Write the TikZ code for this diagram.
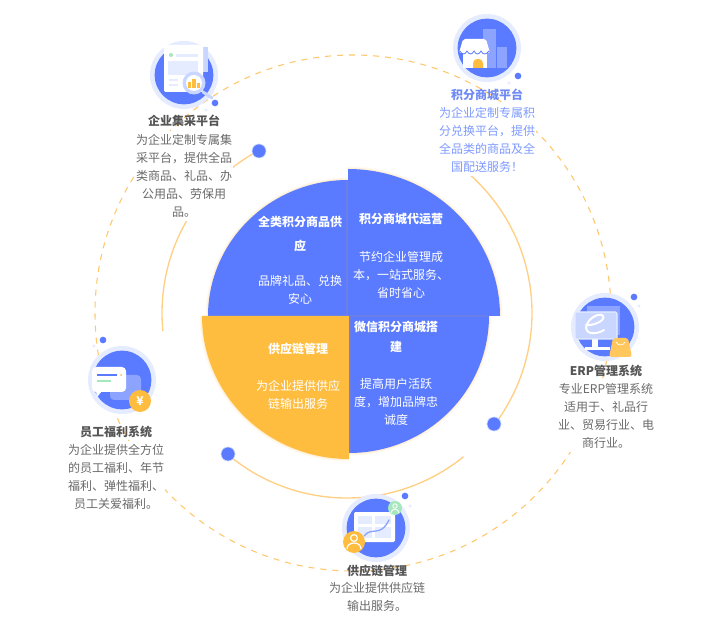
\documentclass[tikz,border=0pt]{standalone}
\usepackage{fontspec}
\setmainfont{Noto Sans CJK SC}
\usetikzlibrary{calc}
\definecolor{mainblue}{HTML}{5A7BFF}
\definecolor{seamblue}{HTML}{6C7FE8}
\definecolor{mainorange}{HTML}{FFBD3F}
\definecolor{arcorange}{HTML}{FFD083}
\definecolor{dashorange}{HTML}{FFC76B}
\definecolor{halo}{HTML}{E6ECFF}
\definecolor{paleblue}{HTML}{C9D6FF}
\definecolor{midblue}{HTML}{8CA4FF}
\definecolor{softblue}{HTML}{E6ECFF}
\definecolor{mint}{HTML}{A5E8BC}
\definecolor{titlegrey}{HTML}{555555}
\definecolor{descgrey}{HTML}{6A6A6A}
\definecolor{hltitle}{HTML}{6F8AF5}
\definecolor{hldesc}{HTML}{7E9AFF}
\definecolor{glowa}{HTML}{FFF9EE}
\definecolor{glowb}{HTML}{FFF0D8}
\newcommand{\sz}{\fontsize{9}{13.5}\selectfont}
\newcommand{\sectorshape}[7]{% fill colour, cx, cy, rx, ry, from, to
  \draw[glowa,line width=3.6pt] plot[domain=#6:#7,samples=70] ({#2+#4*cos(\x)},{#3+#5*sin(\x)});
  \draw[glowb,line width=1.8pt] plot[domain=#6:#7,samples=70] ({#2+#4*cos(\x)},{#3+#5*sin(\x)});
  \fill[#1] (#2,#3) -- plot[domain=#6:#7,samples=70] ({#2+#4*cos(\x)},{#3+#5*sin(\x)}) -- cycle;
}
\tikzset{
  x=0.75pt,y=-0.75pt,
  ring/.style={draw=dashorange,line width=0.8pt,dash pattern=on 4.5pt off 4.5pt},
  solidarc/.style={draw=arcorange,line width=1pt},
  bigdot/.style={circle,fill=mainblue,draw=paleblue,line width=0.5pt,minimum size=10.5pt,inner sep=0pt},
  smalldot/.style={circle,fill=mainblue,minimum size=5pt,inner sep=0pt},
  tinydot/.style={circle,fill=halo,minimum size=2.6pt,inner sep=0pt},
  halodisc/.style={circle,fill=halo,minimum size=51pt,inner sep=0pt},
  bluedisc/.style={circle,fill=mainblue,minimum size=44pt,inner sep=0pt},
  secttitle/.style={font=\sz\bfseries,text=white,align=center,inner sep=0pt},
  sectdesc/.style={font=\sz,text=white,align=center,inner sep=0pt},
  itemtitle/.style={font=\sz\bfseries,text=titlegrey,align=center,inner sep=0pt},
  itemdesc/.style={font=\sz,text=descgrey,align=center,inner sep=0pt,fill=white,text width=73.5pt},
  hltitlestyle/.style={itemtitle,text=hltitle},
  hldescstyle/.style={itemdesc,text=hldesc},
}
\begin{document}
\begin{tikzpicture}
\useasboundingbox[fill=white] (0,0) rectangle (710,630);
% dashed outer ring
\draw[ring] (353,313) circle[radius=258];
% solid inner arcs
\draw[solidarc] plot[domain=174.4:241.5,samples=60] ({347+185*cos(\x)},{313+185*sin(\x)});
\draw[solidarc] plot[domain=-56:37,samples=80] ({347+185*cos(\x)},{313+185*sin(\x)});
\draw[solidarc] plot[domain=51:130,samples=80] ({347+185*cos(\x)},{313+185*sin(\x)});
% pie
\sectorshape{mainblue}{348}{316}{140}{136}{180}{270}
\sectorshape{mainblue}{349}{316}{140}{137}{0}{90}
\sectorshape{mainblue}{348}{316}{152}{147}{270}{360}
\sectorshape{mainorange}{349}{316}{147}{143}{90}{180}
\draw[seamblue,line width=0.8pt] (347,181) -- (347,315);
\draw[seamblue,line width=0.8pt] (350,316) -- (488,316);
\draw[seamblue,line width=0.8pt] (350,317) -- (350,452);
% arc end dots
\node[bigdot] (dotA) at (259,151) {};
\node[bigdot] (dotB) at (494,424) {};
\node[bigdot] (dotC) at (228,454) {};
% sector texts
\node[secttitle] (t1) at (300,234) {全类积分商品供\\[4.5pt]应};
\node[sectdesc]  (d1) at (300,290) {品牌礼品、兑换\\安心};
\node[secttitle] (t2) at (401,219) {积分商城代运营};
\node[sectdesc]  (d2) at (401,275) {节约企业管理成\\本，一站式服务、\\省时省心};
\node[secttitle] (t3) at (396,337) {微信积分商城搭\\[1.5pt]建};
\node[sectdesc]  (d3) at (396,402) {提高用户活跃\\度，增加品牌忠\\诚度};
\node[secttitle] (t4) at (298,349) {供应链管理};
\node[sectdesc]  (d4) at (298,395) {为企业提供供应\\链输出服务};

% ---------- icon 1: procurement
\node[halodisc] (h1) at (184,75) {};
\node[bluedisc] (c1) at (184,75) {};
\fill[paleblue] (203,47) rectangle (208,72);
\draw[paleblue,line width=2.2pt,line cap=round] (203,92) -- (212,98);
\fill[white,rounded corners=1pt] (164,45) rectangle (203,92);
\fill[mint] (171,55) circle[radius=2];
\fill[softblue] (176,54) rectangle (198,57);
\fill[softblue] (168,61) rectangle (198,75);
\fill[softblue] (169,79) rectangle (178,81);
\fill[softblue] (169,84) rectangle (178,86);
\fill[paleblue] (194,83) circle[radius=11.5];
\fill[white] (194,83) circle[radius=8];
\fill[mainorange] (188,82) rectangle (191,88);
\fill[mainorange] (192,79) rectangle (196,88);
\fill[mainorange] (197,83) rectangle (200,88);
\node[smalldot] (s1) at (215,103) {};
\node[tinydot] (p1) at (206,110) {};

% ---------- icon 2: mall
\node[halodisc] (h2) at (487,48) {};
\node[bluedisc] (c2) at (487,48) {};
\fill[midblue] (483,29) rectangle (496,68);
\fill[midblue] (497,47) rectangle (507,68);
\fill[white] (463,52) rectangle (487,68);
\fill[white,rounded corners=1.5pt] (463,39) -- (486,39) -- (490,53) -- (459,53) -- cycle;
\draw[mainblue,line width=0.6pt] (460,51) .. controls (462,55) and (465,55) .. (467,51) .. controls (469,55) and (472,55) .. (474,51) .. controls (476,55) and (479,55) .. (481,51) .. controls (483,55) and (486,55) .. (489,51);
\fill[mainorange] (473,68) -- (473,63) .. controls (473,57.5) and (483,57.5) .. (483,63) -- (483,68) -- cycle;
\node[smalldot] (s2) at (518,76) {};
\node[tinydot] (p2) at (509,83) {};

% ---------- icon 3: ERP
\node[halodisc] (h3) at (605,327) {};
\node[bluedisc] (c3) at (605,327) {};
\fill[midblue] (587,306) rectangle (620,335);
\fill[white] (592,339) rectangle (598,347);
\fill[white] (585,347) rectangle (610,350);
\fill[paleblue,rounded corners=1pt,draw=softblue,line width=0.8pt] (575,312) rectangle (617,339);
\draw[white,line width=1.5pt,line cap=round] (586,325) .. controls (594,326) and (606,320) .. (603,316) .. controls (600,312) and (587,318) .. (586,328) .. controls (586,334) and (596,335) .. (604,330);
\fill[mainorange!85!white,rounded corners=2pt] (613,338) -- (628,338) -- (632,357) -- (609,357) -- cycle;
\draw[white,line width=0.5pt] (616,342) .. controls (618,346) and (623,346) .. (625,342);
\node[smalldot] (s3) at (634,297) {};
\node[tinydot] (p3) at (639,306) {};

% ---------- icon 4: welfare
\node[halodisc] (h4) at (122,380) {};
\node[bluedisc] (c4) at (122,380) {};
\fill[midblue,rounded corners=3pt] (110,375) rectangle (141,400);
\fill[white,rounded corners=3pt] (92,367) rectangle (126,392);
\fill[white] (96,391) -- (97,397) -- (102,391) -- cycle;
\fill[mainblue] (97,374) rectangle (117,376);
\fill[mint] (97,380) rectangle (111,382);
\fill[mainorange] (121,375) circle[radius=1];
\node[circle,fill=mainorange,minimum size=16.5pt,inner sep=0pt,text=white,font=\sz\bfseries] (coin) at (140,401) {¥};
\node[smalldot] (s4) at (103,340) {};
\node[tinydot] (p4) at (94,346) {};

% ---------- icon 5: supply chain
\node[halodisc] (h5) at (376,528) {};
\node[bluedisc] (c5) at (376,528) {};
\fill[white,rounded corners=1pt] (354,512) rectangle (395,542);
\fill[softblue] (358,516) rectangle (372,524);
\fill[softblue] (375,516) rectangle (391,524);
\fill[softblue] (358,527) rectangle (372,538);
\fill[softblue] (375,527) rectangle (391,538);
\draw[midblue,line width=1pt,line cap=round] (364,536) .. controls (372,526) and (380,538) .. (389,520);
\fill[mint] (395,508) circle[radius=7];
\draw[white,line width=0.7pt] (395,506) circle[radius=2.2];
\draw[white,line width=0.7pt] (391,513) .. controls (391,508) and (399,508) .. (399,513);
\fill[mainorange] (354,542) circle[radius=11];
\draw[white,line width=0.9pt] (354,538) circle[radius=3.4];
\draw[white,line width=0.9pt] (347,549) .. controls (347,541) and (361,541) .. (361,549);
\node[smalldot] (s5) at (405,496) {};
\node[tinydot] (p5) at (410,506) {};

% ---------- item texts
\node[itemdesc,minimum height=67.5pt] (desc1) at (184,176) {为企业定制专属集\\采平台，提供全品\\类商品、礼品、办\\公用品、劳保用\\品。};
\node[itemtitle] (title1) at (184,121) {企业集采平台};
\node[hldescstyle,minimum height=54pt] (desc2) at (487,140) {为企业定制专属积\\分兑换平台，提供\\全品类的商品及全\\国配送服务！};
\node[hltitlestyle] (title2) at (487,94.5) {积分商城平台};
\node[itemdesc,minimum height=54pt] (desc3) at (606,416) {专业ERP管理系统\\适用于、礼品行\\业、贸易行业、电\\商行业。};
\node[itemtitle] (title3) at (606,371) {ERP管理系统};
\node[itemdesc,minimum height=54pt] (desc4) at (116,477) {为企业提供全方位\\的员工福利、年节\\福利、弹性福利、\\员工关爱福利。};
\node[itemtitle] (title4) at (116,432) {员工福利系统};
\node[itemdesc,minimum height=27pt] (desc5) at (377,597) {为企业提供供应链\\输出服务。};
\node[itemtitle] (title5) at (377,571) {供应链管理};
\end{tikzpicture}
\end{document}
